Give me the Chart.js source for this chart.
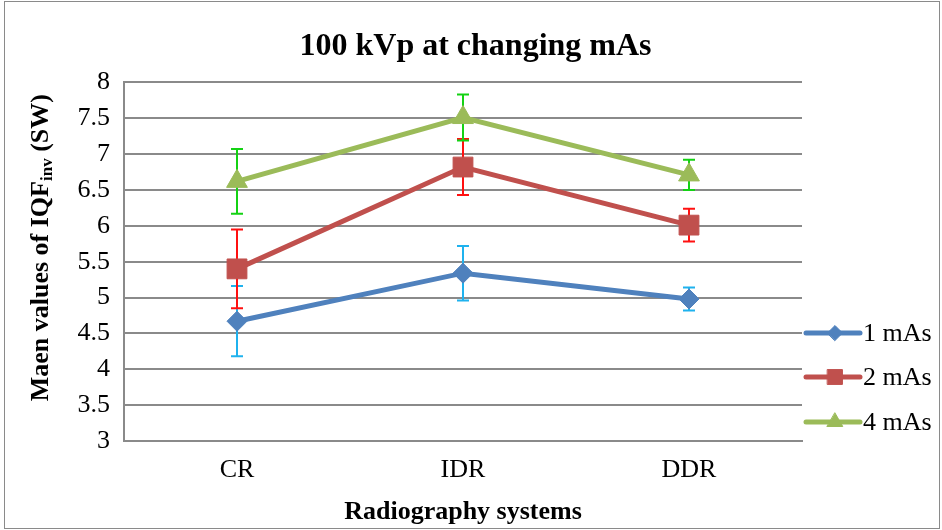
<!DOCTYPE html>
<html>
<head>
<meta charset="utf-8">
<title>100 kVp at changing mAs</title>
<script src="https://cdn.jsdelivr.net/npm/chart.js@4/dist/chart.umd.min.js"></script>
<style>
  html, body { margin: 0; padding: 0; background: #fff; }
  #wrap { width: 942px; height: 530px; }
</style>
</head>
<body>
<div id="wrap"><canvas id="chart" width="942" height="530"></canvas></div>
<script>
// imaging systems on the x axis
var systems = ['CR', 'IDR', 'DDR'];

// mean IQF_inv per system, one array per tube load
var mas1 = [4.67, 5.34, 4.98];
var mas2 = [5.40, 6.82, 6.01];
var mas4 = [6.62, 7.51, 6.71];

// +/- error for each mean
var err1 = [0.49, 0.38, 0.16];
var err2 = [0.55, 0.39, 0.23];
var err4 = [0.45, 0.32, 0.21];

var seriesNames = ['1 mAs', '2 mAs', '4 mAs'];
var yMin = 3, yMax = 8, yStep = 0.5;

var serif = "'Liberation Serif', 'Times New Roman', serif";

function makeSet(label, values, errors, color, barColor, style, radius)
{
  return {
    label: label,
    data: values,
    errors: errors,
    barColor: barColor,
    borderColor: color,
    backgroundColor: color,
    borderWidth: 5,
    tension: 0,
    pointStyle: style,
    pointRadius: radius,
    pointHoverRadius: radius,
    pointBorderWidth: 1,
    pointBorderColor: color,
    pointBackgroundColor: color
  };
}

// error bars go under the lines and markers
var errorBars = {
  id: 'errorBars',
  beforeDatasetsDraw: function(chart)
  {
    var ctx = chart.ctx;
    var y = chart.scales.y;
    ctx.save();
    chart.data.datasets.forEach(function(ds, i)
    {
      var meta = chart.getDatasetMeta(i);
      ctx.strokeStyle = ds.barColor;
      ctx.lineWidth = 2;
      meta.data.forEach(function(pt, j)
      {
        var top = y.getPixelForValue(ds.data[j] + ds.errors[j]);
        var bot = y.getPixelForValue(ds.data[j] - ds.errors[j]);
        ctx.beginPath();
        ctx.moveTo(pt.x, top); ctx.lineTo(pt.x, bot);
        ctx.moveTo(pt.x - 6, top); ctx.lineTo(pt.x + 6, top);
        ctx.moveTo(pt.x - 6, bot); ctx.lineTo(pt.x + 6, bot);
        ctx.stroke();
      });
    });
    ctx.restore();
  }
};

// outer frame, y title with subscript, and the legend on the right
var extras = {
  id: 'extras',
  afterDraw: function(chart)
  {
    var ctx = chart.ctx;
    var area = chart.chartArea;
    ctx.save();

    ctx.strokeStyle = '#8a8a8a';
    ctx.lineWidth = 1;
    ctx.strokeRect(4.5, 1.5, 935, 527);

    // rotated axis title: "Maen values of IQF" + sub "inv" + " (SW)"
    var big = 'bold 26px ' + serif, small = 'bold 17px ' + serif;
    var parts = [['Maen values of IQF', big, 0], ['inv', small, 7], [' (SW)', big, 0]];
    var total = 0;
    parts.forEach(function(p) { ctx.font = p[1]; p.push(ctx.measureText(p[0]).width); total += p[3]; });
    ctx.translate(40, (area.top + area.bottom) / 2 - 14);
    ctx.rotate(-Math.PI / 2);
    ctx.fillStyle = '#000';
    ctx.textBaseline = 'middle';
    ctx.textAlign = 'left';
    var x = -total / 2;
    parts.forEach(function(p)
    {
      ctx.font = p[1];
      ctx.fillText(p[0], x, 1 + p[2]);
      x += p[3];
    });
    ctx.setTransform(1, 0, 0, 1, 0, 0);

    // legend
    var lx = area.right + 4;
    var rows = [area.bottom - 108, area.bottom - 64, area.bottom - 19];
    ctx.font = '26px ' + serif;
    ctx.textBaseline = 'middle';
    chart.data.datasets.forEach(function(ds, i)
    {
      var ly = rows[i];
      ctx.strokeStyle = ds.borderColor;
      ctx.fillStyle = ds.borderColor;
      ctx.lineWidth = 5;
      ctx.lineCap = 'round';
      ctx.beginPath();
      ctx.moveTo(lx, ly); ctx.lineTo(lx + 54, ly);
      ctx.stroke();
      ctx.lineWidth = 1;
      Chart.helpers.drawPoint(ctx, {
        pointStyle: ds.pointStyle, radius: ds.pointRadius * 0.75, borderWidth: 1
      }, lx + 29, ly);
      ctx.fillStyle = '#000';
      ctx.fillText(ds.label, lx + 57, ly + 1);
    });
    ctx.restore();
  }
};

new Chart(document.getElementById('chart'), {
  type: 'line',
  data: {
    labels: systems,
    datasets: [
      makeSet(seriesNames[0], mas1, err1, '#4F81BD', '#1FB2EE', 'rectRot', 10),
      makeSet(seriesNames[1], mas2, err2, '#C0504D', '#FF1010', 'rect', 14),
      makeSet(seriesNames[2], mas4, err4, '#9BBB59', '#14D214', 'triangle', 12)
    ]
  },
  plugins: [errorBars, extras],
  options: {
    responsive: false,
    animation: false,
    layout: { padding: { left: 9, right: 0, top: 0, bottom: 0 } },
    plugins: {
      legend: { display: false },
      tooltip: { enabled: false },
      title: {
        display: true,
        text: '100 kVp at changing mAs',
        color: '#000',
        font: { family: serif, size: 32, weight: 'bold' },
        padding: { top: 28, bottom: 16 }
      }
    },
    scales: {
      x: {
        offset: true,
        grid: { display: false, drawTicks: false },
        border: { display: true, color: '#8a8a8a', width: 2 },
        ticks: { color: '#000', padding: 14, font: { family: serif, size: 26 } },
        title: {
          display: true,
          text: 'Radiography systems',
          color: '#000',
          font: { family: serif, size: 26, weight: 'bold' },
          padding: { top: 0, bottom: 2 }
        },
        afterFit: function(s) { s.height = 89; }
      },
      y: {
        min: yMin,
        max: yMax,
        ticks: {
          stepSize: yStep, color: '#000', padding: 14,
          font: { family: serif, size: 26 },
          callback: function(v) { return String(v); }
        },
        grid: { color: '#8a8a8a', lineWidth: 2, drawTicks: false },
        border: { display: true, color: '#8a8a8a', width: 2 },
        afterFit: function(s) { s.width = 115; }
      },
      side: {
        position: 'right',
        display: true,
        ticks: { display: false },
        grid: { display: false, drawTicks: false },
        border: { display: false },
        afterFit: function(s) { s.width = 140; }
      }
    }
  }
});
</script>
</body>
</html>
